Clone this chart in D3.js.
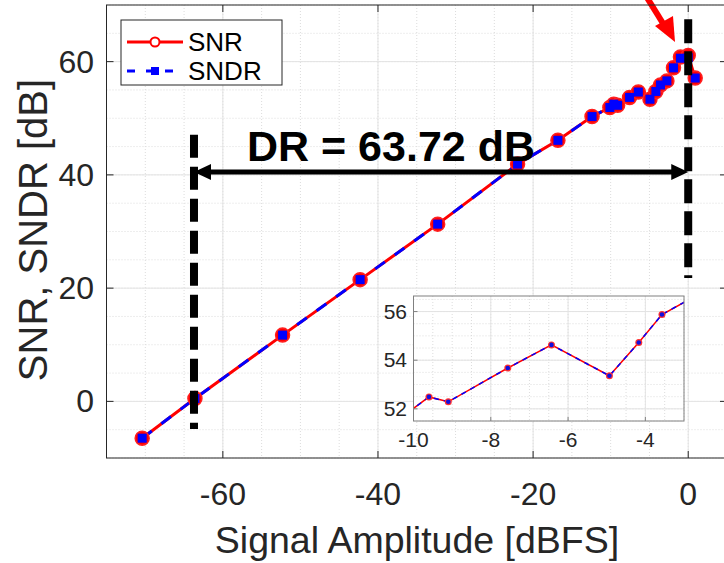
<!DOCTYPE html>
<html>
<head>
<meta charset="utf-8">
<script src="https://cdn.jsdelivr.net/npm/d3@7"></script>
<style>
  body { margin: 0; background: #fff; }
  svg { display: block; font-family: "Liberation Sans", Arial, sans-serif; }
</style>
</head>
<body>
<div id="chart"></div>
<script>
  var amplitude = [-70.4, -63.6, -52.3, -42.3, -32.3, -22.0, -16.8, -12.4, -10.1, -9.6, -9.1,
                   -7.56, -6.43, -4.93, -4.17, -3.57, -2.75, -1.9, -1.0, 0.0, 0.9];
  var snr  = [-6.5, 0.5, 11.7, 21.5, 31.3, 41.9, 46.1, 50.3, 51.9, 52.49, 52.29,
              53.68, 54.63, 53.36, 54.73, 55.88, 56.6, 58.9, 60.8, 61.1, 57.1];
  var sndr = [-6.5, 0.5, 11.7, 21.5, 31.3, 41.9, 46.1, 50.3, 51.9, 52.49, 52.29,
              53.68, 54.63, 53.36, 54.73, 55.88, 56.6, 58.9, 60.6, 60.7, 57.1];

  var xTicks = [-60, -40, -20, 0];
  var yTicks = [0, 20, 40, 60];
  var insetXTicks = [-10, -8, -6, -4];
  var insetYTicks = [52, 54, 56];
  var drValue = 63.72;
  var labels = { x: "Signal Amplitude [dBFS]", y: "SNR, SNDR [dB]", snr: "SNR", sndr: "SNDR" };

  var W = 724, H = 563;
  var svg = d3.select("#chart").append("svg").attr("width", W).attr("height", H);

  var defs = svg.append("defs");
  defs.append("clipPath").attr("id", "mainClip").append("rect")
    .attr("x", 106.5).attr("y", 5).attr("width", 621).attr("height", 453);
  defs.append("clipPath").attr("id", "insetClip").append("rect")
    .attr("x", 413.5).attr("y", 296).attr("width", 270.5).attr("height", 125);

  var x = d3.scaleLinear().domain([-75, 5]).range([106.5, 727]);
  var y = d3.scaleLinear().domain([-10, 70]).range([458, 5]);

  var pts = amplitude.map(function(a, i){ return { a: a, snr: snr[i], sndr: sndr[i] }; });

  // grid
  function grid(g, xs, ys, xMinor, yMinor, x0, x1, y0, y1){
    g.selectAll(".vmin").data(xMinor).enter().append("line")
      .attr("x1", function(d){ return xs(d); }).attr("x2", function(d){ return xs(d); })
      .attr("y1", y0).attr("y2", y1)
      .attr("stroke", "#dcdcdc").attr("stroke-width", 1).attr("stroke-dasharray", "1,2");
    g.selectAll(".hmin").data(yMinor).enter().append("line")
      .attr("y1", function(d){ return ys(d); }).attr("y2", function(d){ return ys(d); })
      .attr("x1", x0).attr("x2", x1)
      .attr("stroke", "#dcdcdc").attr("stroke-width", 1).attr("stroke-dasharray", "1,2");
  }
  function majorGrid(g, xs, ys, xt, yt, x0, x1, y0, y1){
    g.selectAll(".vmaj").data(xt).enter().append("line")
      .attr("x1", function(d){ return xs(d); }).attr("x2", function(d){ return xs(d); })
      .attr("y1", y0).attr("y2", y1).attr("stroke", "#e3e3e3").attr("stroke-width", 1);
    g.selectAll(".hmaj").data(yt).enter().append("line")
      .attr("y1", function(d){ return ys(d); }).attr("y2", function(d){ return ys(d); })
      .attr("x1", x0).attr("x2", x1).attr("stroke", "#e3e3e3").attr("stroke-width", 1);
  }

  var gGrid = svg.append("g");
  grid(gGrid, x, y, d3.range(-75, 6, 5), d3.range(-10, 71, 5), 106.5, 727, 5, 458);
  majorGrid(gGrid, x, y, xTicks, yTicks, 106.5, 727, 5, 458);

  // data
  var line = function(key, xs, ys){
    return d3.line().x(function(d){ return xs(d.a); }).y(function(d){ return ys(d[key]); });
  };
  var gData = svg.append("g").attr("clip-path", "url(#mainClip)");
  gData.append("path").datum(pts).attr("d", line("snr", x, y))
    .attr("fill", "none").attr("stroke", "#ff0000").attr("stroke-width", 3);
  gData.append("path").datum(pts).attr("d", line("sndr", x, y))
    .attr("fill", "none").attr("stroke", "#0000ff").attr("stroke-width", 3)
    .attr("stroke-dasharray", "12,12");
  gData.selectAll(".c").data(pts).enter().append("circle")
    .attr("cx", function(d){ return x(d.a); }).attr("cy", function(d){ return y(d.snr); })
    .attr("r", 7).attr("fill", "#ff0000").attr("stroke", "#ff2020").attr("stroke-width", 1.5);
  gData.selectAll(".s").data(pts).enter().append("rect")
    .attr("x", function(d){ return x(d.a) - 4.5; }).attr("y", function(d){ return y(d.sndr) - 4.5; })
    .attr("width", 9).attr("height", 9).attr("fill", "#0000ff");

  // DR markers
  svg.append("line")
    .attr("x1", x(-drValue)).attr("x2", x(-drValue)).attr("y1", y(47.1)).attr("y2", y(-4.9))
    .attr("stroke", "#000").attr("stroke-width", 8).attr("stroke-dasharray", "23,9");
  svg.append("line")
    .attr("x1", x(0)).attr("x2", x(0)).attr("y1", y(67.5)).attr("y2", y(21.8))
    .attr("stroke", "#000").attr("stroke-width", 8).attr("stroke-dasharray", "24,8");

  var ay = y(40.5), ax0 = x(-drValue), ax1 = x(0);
  svg.append("line").attr("x1", ax0 + 10).attr("x2", ax1 - 10).attr("y1", ay).attr("y2", ay)
    .attr("stroke", "#000").attr("stroke-width", 5);
  svg.append("path").attr("d", "M" + ax0 + "," + ay + "l17,-8l0,16z").attr("fill", "#000");
  svg.append("path").attr("d", "M" + ax1 + "," + ay + "l-17,-8l0,16z").attr("fill", "#000");

  svg.append("text").attr("x", 247).attr("y", 161)
    .attr("font-size", 43).attr("font-weight", "bold").attr("fill", "#000")
    .text("DR = " + drValue.toFixed(2) + " dB");

  // red pointer arrow
  svg.append("line").attr("x1", 646).attr("y1", -4).attr("x2", 664).attr("y2", 25)
    .attr("stroke", "#ff0000").attr("stroke-width", 6);
  svg.append("path").attr("d", "M675,42 L655,26 L673,16 Z").attr("fill", "#ff0000");

  // axes box + ticks
  var gAx = svg.append("g").attr("stroke", "#262626");
  gAx.append("rect").attr("x", 106.5).attr("y", 5).attr("width", 621).attr("height", 453)
    .attr("fill", "none").attr("stroke", "#262626").attr("stroke-width", 1);
  xTicks.forEach(function(t){
    gAx.append("line").attr("x1", x(t)).attr("x2", x(t)).attr("y1", 458).attr("y2", 451);
    gAx.append("line").attr("x1", x(t)).attr("x2", x(t)).attr("y1", 5).attr("y2", 12);
  });
  yTicks.forEach(function(t){
    gAx.append("line").attr("x1", 106.5).attr("x2", 113.5).attr("y1", y(t)).attr("y2", y(t));
    gAx.append("line").attr("x1", 727).attr("x2", 720).attr("y1", y(t)).attr("y2", y(t));
  });

  svg.selectAll(".xt").data(xTicks).enter().append("text")
    .attr("x", function(d){ return x(d); }).attr("y", 505)
    .attr("text-anchor", "middle").attr("font-size", 32).attr("fill", "#262626")
    .text(function(d){ return d; });
  svg.selectAll(".yt").data(yTicks).enter().append("text")
    .attr("x", 94).attr("y", function(d){ return y(d) + 11; })
    .attr("text-anchor", "end").attr("font-size", 32).attr("fill", "#262626")
    .text(function(d){ return d; });

  svg.append("text").attr("x", 417).attr("y", 553).attr("text-anchor", "middle")
    .attr("font-size", 37.5).attr("fill", "#262626").text(labels.x);
  svg.append("text").attr("transform", "translate(47,230) rotate(-90)")
    .attr("text-anchor", "middle").attr("font-size", 40).attr("fill", "#262626").text(labels.y);

  // legend
  var lg = svg.append("g");
  lg.append("rect").attr("x", 121).attr("y", 20).attr("width", 161).attr("height", 65)
    .attr("fill", "#fff").attr("stroke", "#262626").attr("stroke-width", 1);
  lg.append("line").attr("x1", 127).attr("x2", 183).attr("y1", 42).attr("y2", 42)
    .attr("stroke", "#ff0000").attr("stroke-width", 3);
  lg.append("circle").attr("cx", 155).attr("cy", 42).attr("r", 4.5)
    .attr("fill", "#fff").attr("stroke", "#ff0000").attr("stroke-width", 2);
  lg.append("line").attr("x1", 127).attr("x2", 183).attr("y1", 71).attr("y2", 71)
    .attr("stroke", "#0000ff").attr("stroke-width", 3).attr("stroke-dasharray", "8,11");
  lg.append("rect").attr("x", 151).attr("y", 67).attr("width", 8).attr("height", 8).attr("fill", "#0000ff");
  lg.append("text").attr("x", 188).attr("y", 51).attr("font-size", 26).attr("fill", "#000").text(labels.snr);
  lg.append("text").attr("x", 188).attr("y", 80).attr("font-size", 26).attr("fill", "#000").text(labels.sndr);

  // inset
  var ix = d3.scaleLinear().domain([-10, -3]).range([413.5, 684]);
  var iy = d3.scaleLinear().domain([51.5, 56.64]).range([421, 296]);
  var ins = svg.append("g");
  ins.append("rect").attr("x", 413.5).attr("y", 296).attr("width", 270.5).attr("height", 125).attr("fill", "#fff");
  grid(ins, ix, iy, d3.range(-10, -2.9, 0.5), d3.range(51.5, 56.7, 0.5), 413.5, 684, 296, 421);
  majorGrid(ins, ix, iy, insetXTicks, insetYTicks, 413.5, 684, 296, 421);
  var insData = ins.append("g").attr("clip-path", "url(#insetClip)");
  insData.append("path").datum(pts).attr("d", line("snr", ix, iy))
    .attr("fill", "none").attr("stroke", "#ff0000").attr("stroke-width", 1.5);
  insData.append("path").datum(pts).attr("d", line("sndr", ix, iy))
    .attr("fill", "none").attr("stroke", "#0000ff").attr("stroke-width", 1.5).attr("stroke-dasharray", "5,5");
  var inPts = pts.filter(function(d){ return d.a >= -10 && d.a <= -3; });
  insData.selectAll(".ic").data(inPts).enter().append("circle")
    .attr("cx", function(d){ return ix(d.a); }).attr("cy", function(d){ return iy(d.snr); })
    .attr("r", 3.5).attr("fill", "#ff3030");
  insData.selectAll(".is").data(inPts).enter().append("circle")
    .attr("cx", function(d){ return ix(d.a); }).attr("cy", function(d){ return iy(d.sndr); })
    .attr("r", 2.3).attr("fill", "#1010e0");
  ins.append("rect").attr("x", 413.5).attr("y", 296).attr("width", 270.5).attr("height", 125)
    .attr("fill", "none").attr("stroke", "#808080").attr("stroke-width", 1);
  insetXTicks.forEach(function(t){
    ins.append("line").attr("x1", ix(t)).attr("x2", ix(t)).attr("y1", 421).attr("y2", 417).attr("stroke", "#808080");
  });
  insetYTicks.forEach(function(t){
    ins.append("line").attr("x1", 413.5).attr("x2", 417.5).attr("y1", iy(t)).attr("y2", iy(t)).attr("stroke", "#808080");
  });
  ins.selectAll(".ixt").data(insetXTicks).enter().append("text")
    .attr("x", function(d){ return ix(d); }).attr("y", 447)
    .attr("text-anchor", "middle").attr("font-size", 21).attr("fill", "#262626")
    .text(function(d){ return d; });
  ins.selectAll(".iyt").data(insetYTicks).enter().append("text")
    .attr("x", 407).attr("y", function(d){ return iy(d) + 7; })
    .attr("text-anchor", "end").attr("font-size", 21).attr("fill", "#262626")
    .text(function(d){ return d; });
</script>
</body>
</html>
